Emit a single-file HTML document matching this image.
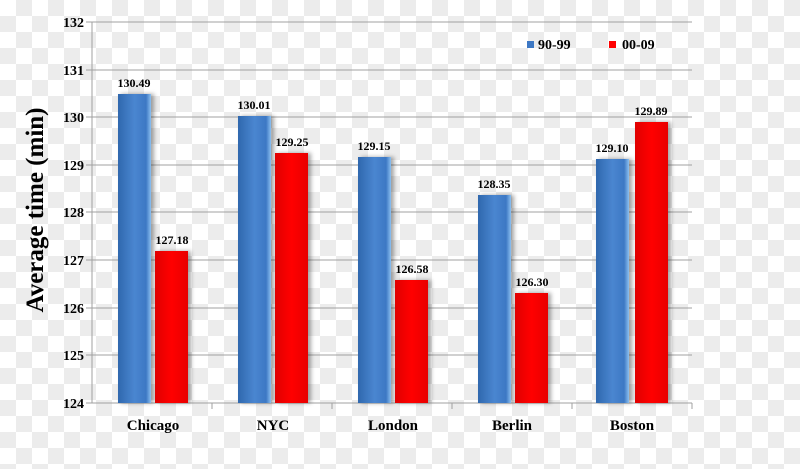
<!DOCTYPE html>
<html><head><style>
body{margin:0}
.bg{width:800px;height:469px;background-color:#fff;background-image:linear-gradient(45deg,#ececec 25%,transparent 25%,transparent 75%,#ececec 75%),linear-gradient(45deg,#ececec 25%,transparent 25%,transparent 75%,#ececec 75%);background-size:32px 32px;background-position:0 0,16px 16px}
text{font-family:"Liberation Serif",serif;font-weight:bold;fill:#000}
</style></head><body><div class="bg">
<svg width="800" height="469" xmlns="http://www.w3.org/2000/svg">
<defs>
<linearGradient id="b" x1="0" x2="1"><stop offset="0" stop-color="#2f68ae"/><stop offset="0.5" stop-color="#4a86d0"/><stop offset="0.85" stop-color="#3d78c4"/><stop offset="1" stop-color="#8cc0f0"/></linearGradient>
<linearGradient id="r" x1="0" x2="1"><stop offset="0" stop-color="#e00000"/><stop offset="0.5" stop-color="#ff0000"/><stop offset="1" stop-color="#e80000"/></linearGradient>
<filter id="s"><feDropShadow dx="3" dy="0" stdDeviation="2" flood-opacity="0.35"/></filter>
</defs>
<g stroke="#a0a0a0" stroke-width="1">
<line x1="92" y1="22" x2="692" y2="22"/><line x1="92" y1="70" x2="692" y2="70"/><line x1="92" y1="117" x2="692" y2="117"/><line x1="92" y1="165" x2="692" y2="165"/><line x1="92" y1="212" x2="692" y2="212"/><line x1="92" y1="260" x2="692" y2="260"/><line x1="92" y1="308" x2="692" y2="308"/><line x1="92" y1="355" x2="692" y2="355"/><line x1="92" y1="403" x2="692" y2="403"/>
<line x1="92" y1="22" x2="92" y2="403"/>
<line x1="86" y1="22" x2="92" y2="22"/><line x1="86" y1="70" x2="92" y2="70"/><line x1="86" y1="117" x2="92" y2="117"/><line x1="86" y1="165" x2="92" y2="165"/><line x1="86" y1="212" x2="92" y2="212"/><line x1="86" y1="260" x2="92" y2="260"/><line x1="86" y1="308" x2="92" y2="308"/><line x1="86" y1="355" x2="92" y2="355"/><line x1="86" y1="403" x2="92" y2="403"/>
<line x1="212" y1="403" x2="212" y2="409"/><line x1="332" y1="403" x2="332" y2="409"/><line x1="452" y1="403" x2="452" y2="409"/><line x1="572" y1="403" x2="572" y2="409"/><line x1="692" y1="403" x2="692" y2="409"/>
</g>
<g font-size="14" text-anchor="end">
<text x="84" y="27">132</text><text x="84" y="75">131</text><text x="84" y="122">130</text><text x="84" y="170">129</text><text x="84" y="217">128</text><text x="84" y="265">127</text><text x="84" y="313">126</text><text x="84" y="360">125</text><text x="84" y="408">124</text>
</g>
<text transform="translate(43,210) rotate(-90)" font-size="25" text-anchor="middle">Average time (min)</text>
<g filter="url(#s)">
<rect x="118" y="94" width="33" height="309" fill="url(#b)"/><rect x="155" y="251" width="33" height="152" fill="url(#r)"/>
<rect x="238" y="116" width="33" height="287" fill="url(#b)"/><rect x="275" y="153" width="33" height="250" fill="url(#r)"/>
<rect x="358" y="157" width="33" height="246" fill="url(#b)"/><rect x="395" y="280" width="33" height="123" fill="url(#r)"/>
<rect x="478" y="195" width="33" height="208" fill="url(#b)"/><rect x="515" y="293" width="33" height="110" fill="url(#r)"/>
<rect x="596" y="159" width="33" height="244" fill="url(#b)"/><rect x="635" y="122" width="33" height="281" fill="url(#r)"/>
</g>
<g font-size="12" text-anchor="middle">
<text x="134" y="87">130.49</text><text x="172" y="244">127.18</text>
<text x="254" y="109">130.01</text><text x="292" y="146">129.25</text>
<text x="374" y="150">129.15</text><text x="412" y="273">126.58</text>
<text x="494" y="188">128.35</text><text x="532" y="286">126.30</text>
<text x="612" y="152">129.10</text><text x="651" y="115">129.89</text>
</g>
<g font-size="15" text-anchor="middle">
<text x="153" y="430">Chicago</text><text x="273" y="430">NYC</text><text x="393" y="430">London</text><text x="512" y="430">Berlin</text><text x="632" y="430">Boston</text>
</g>
<rect x="527" y="41" width="7" height="7" fill="#3d78c4"/><text x="538" y="49" font-size="14">90-99</text>
<rect x="609" y="41" width="7" height="7" fill="#ff0000"/><text x="622" y="49" font-size="14">00-09</text>
</svg></div></body></html>
